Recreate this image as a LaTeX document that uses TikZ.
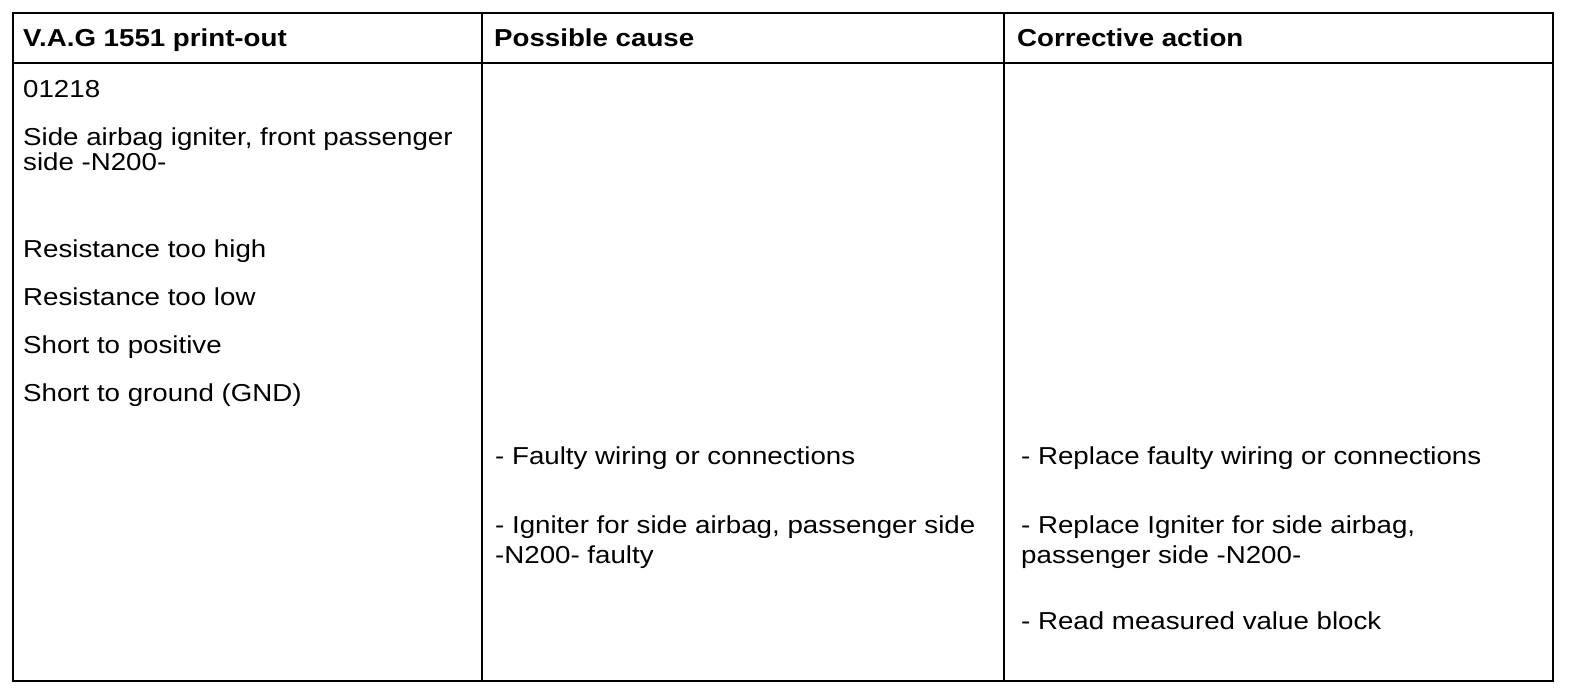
\documentclass[tikz,border=0pt]{standalone}
\usepackage{fontspec}
\setmainfont[FakeStretch=1.13]{Liberation Sans}
\begin{document}
\begin{tikzpicture}[x=1pt,y=-1pt,
  txt/.style={anchor=base west, inner sep=0pt, font=\fontsize{24.5}{28}\selectfont},
  hdr/.style={anchor=base west, inner sep=0pt, font=\fontsize{24.5}{28}\selectfont\bfseries},
  rule/.style={line width=2.2pt}]
\useasboundingbox (0,0) rectangle (1584,694);
% grid
\coordinate (tl) at (13,13);
\coordinate (br) at (1553,681);
\coordinate (hl) at (13,63);
\coordinate (hr) at (1553,63);
\coordinate (d1t) at (482,13);
\coordinate (d1b) at (482,681);
\coordinate (d2t) at (1004,13);
\coordinate (d2b) at (1004,681);
\draw[rule] (tl) rectangle (br);
\draw[rule] (hl) -- (hr);
\draw[rule] (d1t) -- (d1b);
\draw[rule] (d2t) -- (d2b);
% headers
\node[hdr] (h1) at (23,46) {V.A.G 1551 print-out};
\node[hdr] (h2) at (494,46) {Possible cause};
\node[hdr] (h3) at (1017,46) {Corrective action};
% column 1
\node[txt] (a1) at (23,97) {01218};
\node[txt] (a2) at (23,145) {Side airbag igniter, front passenger};
\node[txt] (a3) at (23,170) {side -N200-};
\node[txt] (a4) at (23,257) {Resistance too high};
\node[txt] (a5) at (23,305) {Resistance too low};
\node[txt] (a6) at (23,353) {Short to positive};
\node[txt] (a7) at (23,401) {Short to ground (GND)};
% column 2
\node[txt] (b1) at (495,464) {- Faulty wiring or connections};
\node[txt] (b2) at (495,533) {- Igniter for side airbag, passenger side};
\node[txt] (b3) at (495,563) {-N200- faulty};
% column 3
\node[txt] (c1) at (1021,464) {- Replace faulty wiring or connections};
\node[txt] (c2) at (1021,533) {- Replace Igniter for side airbag,};
\node[txt] (c3) at (1021,563) {passenger side -N200-};
\node[txt] (c4) at (1021,629) {- Read measured value block};
\end{tikzpicture}
\end{document}
